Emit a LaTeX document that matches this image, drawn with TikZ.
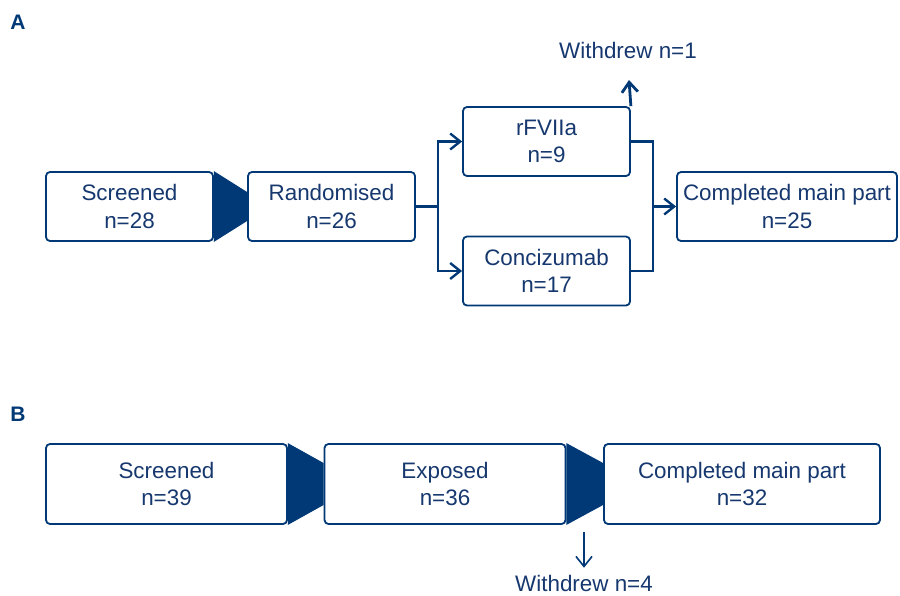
\documentclass[tikz,border=0pt]{standalone}
\usepackage{fontspec}
\setmainfont{Liberation Sans}
\usetikzlibrary{arrows.meta}
\definecolor{flowNavy}{RGB}{0,57,118}
\definecolor{flowText}{RGB}{22,56,110}
\tikzset{
  arrow/.style={-{Straight Barb[length=5pt,width=8pt]}, draw=flowNavy, line width=1.2pt},
  link/.style={draw=flowNavy, line width=1.2pt},
  box/.style={
    rectangle,
    rounded corners=2pt,
    draw=flowNavy,
    fill=white,
    line width=0.9pt,
    minimum width=83.5pt,
    minimum height=34.5pt,
    inner sep=0pt,
    align=center,
    text=flowText,
    font=\fontsize{11.2}{13.6}\selectfont
  },
  widebox/.style={box, minimum width=120.5pt, minimum height=40pt},
  funnel/.style={fill=flowNavy},
  note/.style={text=flowText, font=\fontsize{11.2}{13.6}\selectfont},
  panel/.style={text=flowNavy, font=\fontsize{10.5}{12}\selectfont\bfseries}
}

\begin{document}
\begin{tikzpicture}[x=0.5pt,y=-0.5pt]
  \useasboundingbox (0,0) rectangle (900,595);

  % panel A
  \node[panel] (labA) at (18,22) {A};
  \node[box] (scrA) at (129.5,206.5) {Screened\\n=28};
  \node[box] (randA) at (331.5,206.5) {Randomised\\n=26};
  \node[box] (rfvii) at (546.5,141.5) {rFVIIa\\n=9};
  \node[box] (conc) at (546.5,271) {Concizumab\\n=17};
  \node[box, minimum width=110pt] (compA) at (787,206.5) {Completed main part\\n=25};
  \node[note] (wdA) at (628,50) {Withdrew n=1};
  \coordinate (wdAtip) at (629,80);
  \coordinate (splitA) at (438,206.5);
  \coordinate (mergeA) at (653,206.5);

  \fill[funnel] (scrA.north east) -- ([yshift=7.25pt]randA.west) -- ([yshift=-7.25pt]randA.west) -- (scrA.south east) -- cycle;
  \draw[link] (randA.east) -- (splitA);
  \draw[arrow] (splitA) |- (rfvii.west);
  \draw[arrow] (splitA) |- (conc.west);
  \draw[link] (rfvii.east) -| (mergeA);
  \draw[link] (conc.east) -| (mergeA);
  \draw[arrow] (mergeA) -- (compA.west);
  \draw[arrow, line width=1.4pt] (rfvii.north east) -- (wdAtip);

  % panel B
  \node[panel] (labB) at (18,414) {B};
  \node[widebox] (scrB) at (166.5,484) {Screened\\n=39};
  \node[widebox] (expB) at (445,484) {Exposed\\n=36};
  \node[widebox, minimum width=138pt] (compB) at (742,484) {Completed main part\\n=32};
  \node[note] (wdB) at (584,583) {Withdrew n=4};
  \coordinate (wdBtop) at (584,532);

  \fill[funnel] (scrB.north east) -- ([yshift=10.5pt]expB.west) -- ([yshift=-10.5pt]expB.west) -- (scrB.south east) -- cycle;
  \fill[funnel] (expB.north east) -- ([yshift=10.5pt]compB.west) -- ([yshift=-10.5pt]compB.west) -- (expB.south east) -- cycle;
  \draw[arrow, line width=0.8pt] (wdBtop) -- (wdB.north);
\end{tikzpicture}
\end{document}
